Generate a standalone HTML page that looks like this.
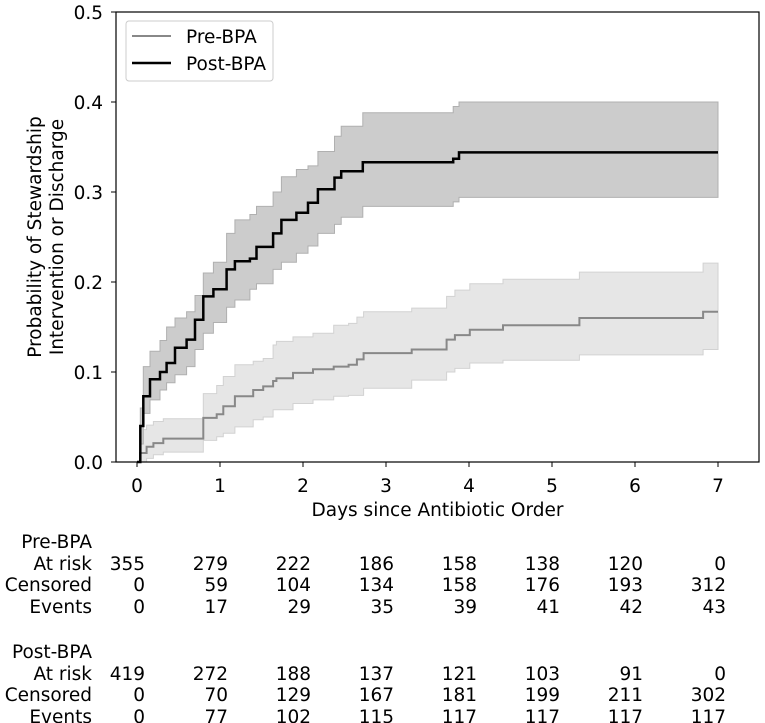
<!DOCTYPE html>
<html><head><meta charset="utf-8"><style>
html,body{margin:0;padding:0;background:#fff;}
svg{display:block;font-family:"DejaVu Sans","Liberation Sans",sans-serif;}
</style></head><body>
<svg id="chart" width="765" height="723" viewBox="0 0 765 723" xmlns="http://www.w3.org/2000/svg">
<g id="bands"></g><g id="lines"></g>
<rect x="116" y="12" width="643" height="450" fill="none" stroke="#000" stroke-width="1.2"/>
<g id="axes" font-size="18.5" fill="#000"></g>
<text x="437.5" y="516" font-size="18.5" text-anchor="middle">Days since Antibiotic Order</text>
<g font-size="18.5" text-anchor="middle">
<text transform="translate(41,237) rotate(-90)">Probability of Stewardship</text>
<text transform="translate(63,237) rotate(-90)">Intervention or Discharge</text>
</g>
<g>
<rect x="126" y="21" width="147" height="60" rx="3" fill="#fff" fill-opacity="0.8" stroke="#ccc"/>
<line x1="132" y1="36" x2="171" y2="36" stroke="#888" stroke-width="2"/>
<text x="186" y="43" font-size="18.5">Pre-BPA</text>
<line x1="132" y1="63" x2="171" y2="63" stroke="#000" stroke-width="2.5"/>
<text x="186" y="70" font-size="18.5">Post-BPA</text>
</g>
<g id="table" font-size="18.5"></g>
</svg>
<script>
const preT  =[0,0.036,0.116,0.197,0.317,0.799,0.96,1.04,1.18,1.40,1.52,1.64,1.68,1.88,2.12,2.37,2.55,2.65,2.73,3.31,3.73,3.83,4.01,4.41,5.33,6.82];
const preEst=[0,0.010,0.017,0.021,0.026,0.049,0.053,0.062,0.073,0.080,0.084,0.090,0.093,0.099,0.103,0.106,0.108,0.114,0.121,0.125,0.136,0.141,0.147,0.152,0.160,0.167];
const preLo =[0,0,0.004,0.008,0.011,0.024,0.028,0.032,0.039,0.047,0.050,0.058,0.058,0.065,0.069,0.073,0.074,0.074,0.082,0.091,0.100,0.104,0.110,0.113,0.119,0.125];
const preHi =[0,0.036,0.041,0.045,0.048,0.076,0.085,0.095,0.108,0.112,0.115,0.130,0.134,0.139,0.143,0.152,0.154,0.161,0.167,0.171,0.184,0.191,0.198,0.203,0.211,0.221];
const postT  =[0,0.04,0.076,0.157,0.277,0.357,0.458,0.598,0.699,0.799,0.92,1.08,1.18,1.36,1.44,1.64,1.74,1.92,2.06,2.18,2.38,2.46,2.72,3.81,3.88];
const postEst=[0,0.040,0.073,0.092,0.100,0.110,0.127,0.136,0.158,0.184,0.192,0.214,0.223,0.226,0.239,0.254,0.269,0.277,0.288,0.303,0.316,0.323,0.333,0.337,0.344];
const postLo =[0,0.020,0.054,0.069,0.080,0.088,0.097,0.106,0.125,0.143,0.155,0.172,0.180,0.192,0.198,0.214,0.222,0.232,0.240,0.254,0.264,0.272,0.284,0.289,0.294];
const postHi =[0,0.060,0.106,0.123,0.135,0.150,0.160,0.167,0.185,0.210,0.222,0.254,0.269,0.275,0.284,0.300,0.317,0.325,0.329,0.345,0.362,0.373,0.388,0.395,0.400];
const tMax=7;
const xTicks=[0,1,2,3,4,5,6,7];
const yTicks=[0,0.1,0.2,0.3,0.4,0.5];
const preRisk=[355,279,222,186,158,138,120,0];
const preCens=[0,59,104,134,158,176,193,312];
const preEvt=[0,17,29,35,39,41,42,43];
const postRisk=[419,272,188,137,121,103,91,0];
const postCens=[0,70,129,167,181,199,211,302];
const postEvt=[0,77,102,115,117,117,117,117];

const NS="http://www.w3.org/2000/svg";
const X=d=>137+d*83;
const Y=v=>462-v*900;
function mk(tag,attrs,parent){const e=document.createElementNS(NS,tag);for(const k in attrs)e.setAttribute(k,attrs[k]);parent.appendChild(e);return e;}
function stepPts(t,v){const p=[];for(let i=0;i<t.length;i++){if(i>0)p.push([X(t[i]),Y(v[i-1])]);p.push([X(t[i]),Y(v[i])]);}p.push([X(tMax),Y(v[v.length-1])]);return p;}
function band(t,lo,hi,fill,stroke,name){
  const up=stepPts(t,hi),dn=stepPts(t,lo).reverse();
  const d="M"+up.concat(dn).map(p=>p[0].toFixed(1)+","+p[1].toFixed(1)).join("L")+"Z";
  const e=mk("path",{d:d,fill:fill,stroke:stroke,"stroke-width":1},document.getElementById("bands"));
  
  
}
function line(t,v,stroke,w,name){
  const d="M"+stepPts(t,v).map(p=>p[0].toFixed(1)+","+p[1].toFixed(1)).join("L");
  const e=mk("path",{d:d,fill:"none",stroke:stroke,"stroke-width":w},document.getElementById("lines"));
  
  
}
band(preT,preLo,preHi,"#e6e6e6","#d2d2d2","pre-bpa-ci-band");
band(postT,postLo,postHi,"#cccccc","#b0b0b0","post-bpa-ci-band");
line(preT,preEst,"#888888",2,"pre-bpa-line");
line(postT,postEst,"#000000",2.5,"post-bpa-line");

const ax=document.getElementById("axes");
xTicks.forEach(v=>{
  const l=mk("line",{x1:X(v),x2:X(v),y1:462,y2:467,stroke:"#000"},ax);
  
  
  const t=mk("text",{x:X(v),y:492,"text-anchor":"middle"},ax);t.textContent=v;
  
  
});
yTicks.forEach(v=>{
  const l=mk("line",{x1:111,x2:116,y1:Y(v),y2:Y(v),stroke:"#000"},ax);
  
  
  const t=mk("text",{x:103,y:Y(v)+7,"text-anchor":"end"},ax);t.textContent=v.toFixed(1);
  
  
});

const tb=document.getElementById("table");
function row(label,vals,y,name){
  const lt=mk("text",{x:92,y:y,"text-anchor":"end"},tb);lt.textContent=label;
  
  
  if(!vals)return;
  vals.forEach((v,i)=>{
    const t=mk("text",{x:X(xTicks[i])+8,y:y,"text-anchor":"end"},tb);t.textContent=v;
    
    
  });
}
row("Pre-BPA",null,548,"pre-bpa-table-title");
row("At risk",preRisk,570,"pre-at-risk");
row("Censored",preCens,591,"pre-censored");
row("Events",preEvt,613,"pre-events");
row("Post-BPA",null,658,"post-bpa-table-title");
row("At risk",postRisk,680,"post-at-risk");
row("Censored",postCens,701,"post-censored");
row("Events",postEvt,723,"post-events");
</script>
</body></html>
